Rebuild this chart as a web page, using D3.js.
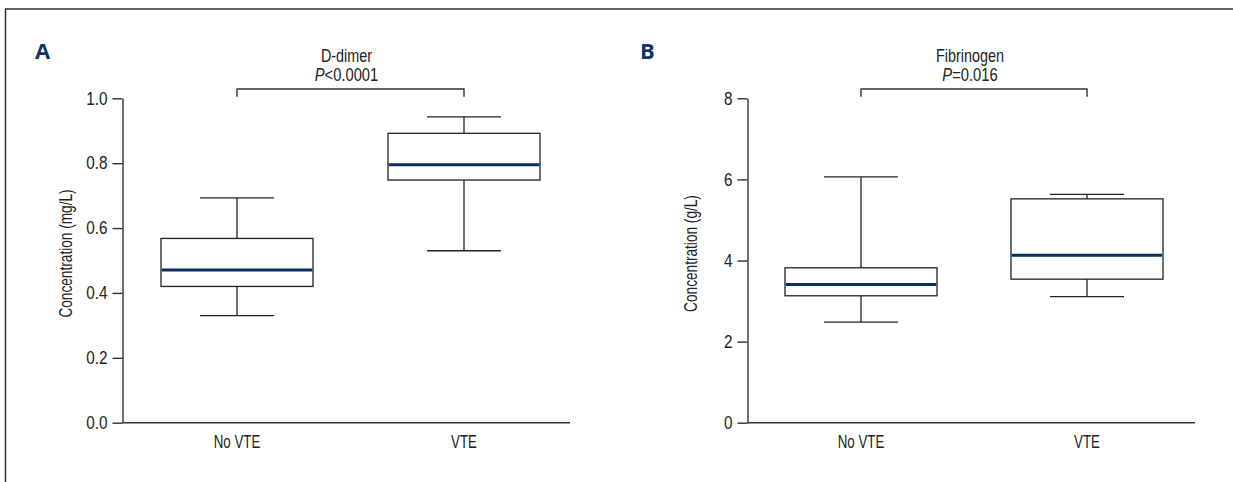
<!DOCTYPE html>
<html>
<head>
<meta charset="utf-8">
<script src="https://cdn.jsdelivr.net/npm/d3@7/dist/d3.min.js"></script>
<style>
  body { margin: 0; background: #fff; }
  svg text { font-family: "Liberation Sans", Arial, sans-serif; fill: #222; }
</style>
</head>
<body>
<div id="viz-container"></div>
<script>
// data
let groups = ["No VTE", "VTE"];

let ddimerMin = [0.33, 0.53];
let ddimerQ1 = [0.42, 0.748];
let ddimerMed = [0.471, 0.795];
let ddimerQ3 = [0.568, 0.892];
let ddimerMax = [0.693, 0.943];
let ddimerTicks = [0, 0.2, 0.4, 0.6, 0.8, 1.0];

let fibMin = [2.48, 3.11];
let fibQ1 = [3.13, 3.54];
let fibMed = [3.41, 4.13];
let fibQ3 = [3.82, 5.52];
let fibMax = [6.06, 5.63];
let fibTicks = [0, 2, 4, 6, 8];

let w = 1233;
let h = 482;
let yTop = 98.3;
let yBottom = 422.7;

let viz = d3.select("#viz-container")
  .append("svg")
  .attr("width", w)
  .attr("height", h);

// outer frame (top and left edges)
viz.append("path")
  .attr("d", "M5.5," + h + "V9H" + w)
  .attr("fill", "none")
  .attr("stroke", "#333")
  .attr("stroke-width", 1.5);

// text placed at x,y and squeezed horizontally (condensed look)
function narrowText(parent, x, y, size, sq, rotate) {
  let t = "translate(" + x + "," + y + ")" + (rotate ? " rotate(-90)" : "") + " scale(" + sq + ",1)";
  return parent.append("text")
    .attr("transform", t)
    .attr("text-anchor", "middle")
    .style("font-size", size + "px");
}

function panel(opt) {
  let g = viz.append("g");

  let yScale = d3.scaleLinear().domain([0, opt.yMax]).range([yBottom, yTop]);
  let xScale = d3.scalePoint().domain(groups).range([opt.c0, opt.c1]);

  // panel letter
  g.append("text")
    .attr("x", opt.letterX)
    .attr("y", 59)
    .style("font-family", "'Open Sans', 'DejaVu Sans', sans-serif")
    .style("font-weight", "bold")
    .style("font-size", "22px")
    .style("fill", "#0f3466")
    .text(opt.letter);

  // y axis
  let tickSq = 0.85;
  let yAxis = d3.axisLeft(yScale)
    .tickValues(opt.ticks)
    .tickSize(10)
    .tickSizeOuter(0)
    .tickPadding(4)
    .tickFormat(opt.fmt);
  let yAxisGroup = g.append("g")
    .attr("transform", "translate(" + opt.x0 + ",0)")
    .call(yAxis);
  yAxisGroup.selectAll("path, line").attr("stroke", "#333").attr("stroke-width", 1.4);
  yAxisGroup.selectAll("text")
    .style("font-size", "18px")
    .style("fill", "#222")
    .style("font-family", "'Liberation Sans', Arial, sans-serif")
    .attr("x", -15 / tickSq)
    .attr("transform", "scale(" + tickSq + ",1)");

  // x baseline
  g.append("line")
    .attr("x1", opt.x0).attr("x2", opt.x1)
    .attr("y1", yScale(0)).attr("y2", yScale(0))
    .attr("stroke", "#333").attr("stroke-width", 1.4);

  // x labels
  groups.forEach(function (d) {
    narrowText(g, xScale(d), 448, 18, 0.74, false).text(d);
  });

  // y label
  narrowText(g, opt.x0 - 51, (yTop + yBottom) / 2 - 7, 17.5, 0.78, true).text(opt.yLabel);

  // boxes
  let boxW = 152;
  let capW = 74;
  let boxes = g.selectAll(".box").data(groups).enter()
    .append("g").attr("class", "box");

  boxes.append("line")
    .attr("x1", d => xScale(d)).attr("x2", d => xScale(d))
    .attr("y1", (d, i) => yScale(opt.max[i])).attr("y2", (d, i) => yScale(opt.min[i]))
    .attr("stroke", "#222").attr("stroke-width", 1.3);
  boxes.append("line")
    .attr("x1", d => xScale(d) - capW / 2).attr("x2", d => xScale(d) + capW / 2)
    .attr("y1", (d, i) => yScale(opt.max[i])).attr("y2", (d, i) => yScale(opt.max[i]))
    .attr("stroke", "#222").attr("stroke-width", 1.3);
  boxes.append("line")
    .attr("x1", d => xScale(d) - capW / 2).attr("x2", d => xScale(d) + capW / 2)
    .attr("y1", (d, i) => yScale(opt.min[i])).attr("y2", (d, i) => yScale(opt.min[i]))
    .attr("stroke", "#222").attr("stroke-width", 1.3);
  boxes.append("rect")
    .attr("x", d => xScale(d) - boxW / 2)
    .attr("width", boxW)
    .attr("y", (d, i) => yScale(opt.q3[i]))
    .attr("height", (d, i) => yScale(opt.q1[i]) - yScale(opt.q3[i]))
    .attr("fill", "#fff")
    .attr("stroke", "#222").attr("stroke-width", 1.3);
  boxes.append("line")
    .attr("x1", d => xScale(d) - boxW / 2 + 0.7).attr("x2", d => xScale(d) + boxW / 2 - 0.7)
    .attr("y1", (d, i) => yScale(opt.med[i])).attr("y2", (d, i) => yScale(opt.med[i]))
    .attr("stroke", "#0d2f5e").attr("stroke-width", 3);

  // significance bracket
  let bx0 = xScale(groups[0]), bx1 = xScale(groups[1]);
  g.append("path")
    .attr("d", "M" + bx0 + ",96.7V89H" + bx1 + "V96.7")
    .attr("fill", "none")
    .attr("stroke", "#333").attr("stroke-width", 1.4);

  let mid = (bx0 + bx1) / 2 - 4;
  narrowText(g, mid, 62, 18, 0.8, false).text(opt.title);
  let p = narrowText(g, mid, 81, 18, 0.82, false);
  p.append("tspan").style("font-style", "italic").text("P");
  p.append("tspan").text(opt.pText);
}

panel({
  letter: "A", letterX: 35,
  x0: 122.5, x1: 570, c0: 237, c1: 464,
  yMax: 1.0, ticks: ddimerTicks, fmt: d3.format(".1f"),
  yLabel: "Concentration (mg/L)",
  min: ddimerMin, q1: ddimerQ1, med: ddimerMed, q3: ddimerQ3, max: ddimerMax,
  title: "D-dimer", pText: "<0.0001"
});

panel({
  letter: "B", letterX: 640,
  x0: 747.5, x1: 1195, c0: 861, c1: 1087,
  yMax: 8, ticks: fibTicks, fmt: d3.format("d"),
  yLabel: "Concentration (g/L)",
  min: fibMin, q1: fibQ1, med: fibMed, q3: fibQ3, max: fibMax,
  title: "Fibrinogen", pText: "=0.016"
});
</script>
</body>
</html>
